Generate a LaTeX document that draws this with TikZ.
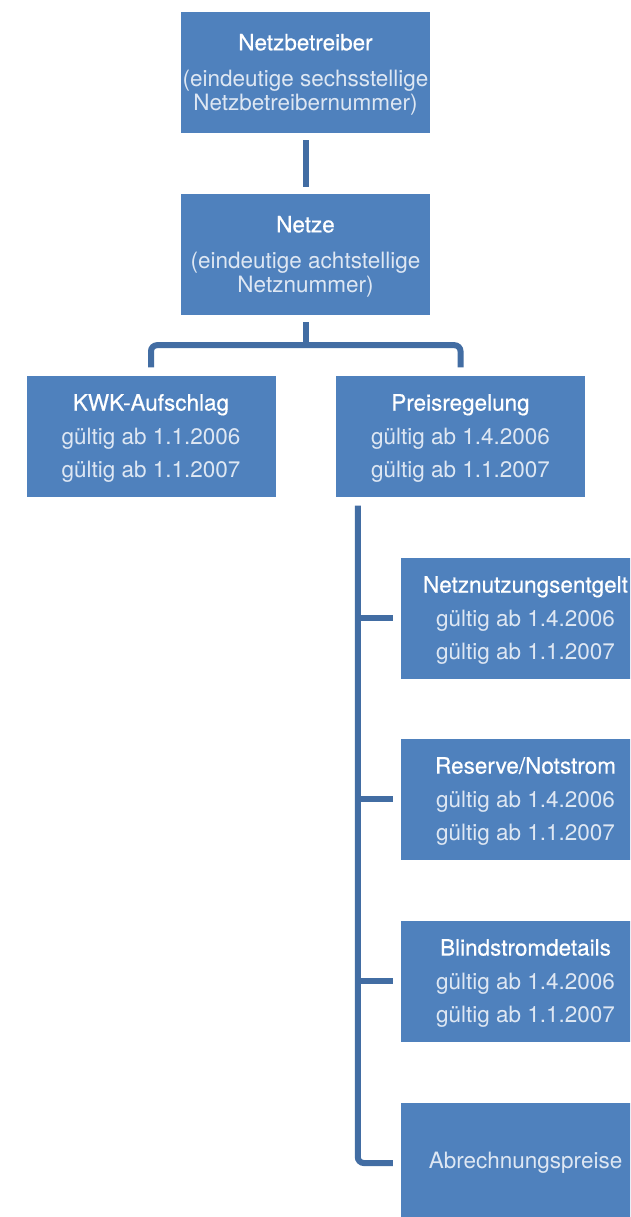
\documentclass[tikz,border=0pt]{standalone}
\usepackage{fontspec}
\setmainfont{TeX Gyre Heros}
\newfontfamily\titlefont{TeX Gyre Heros}[FakeBold=0.5]
\definecolor{boxblue}{RGB}{79,129,189}
\definecolor{linkblue}{RGB}{66,109,163}
\definecolor{softtext}{RGB}{222,231,243}
\newcommand{\ttl}[1]{\rule{0pt}{21pt}{\titlefont\color{white}#1}}
\begin{document}
\begin{tikzpicture}[x=1pt,y=-1pt,
  box/.style={fill=boxblue, draw=none, minimum width=249pt, minimum height=121pt,
    inner sep=0pt, align=center, text=softtext, font=\fontsize{22.5}{24.5}\selectfont},
  datebox/.style={box, font=\fontsize{22.5}{33.5}\selectfont},
  conn/.style={draw=linkblue, line width=6pt, rounded corners=6pt}]
\useasboundingbox (0,0) rectangle (630,1217);
\clip (0,0) rectangle (630,1217);

\node[box] (nb) at (305.5,72.5) {\ttl{Netzbetreiber}\\[11.5pt](eindeutige sechsstellige\\Netzbetreibernummer)};
\node[box] (netze) at (305.5,254.5) {\ttl{Netze}\\[11.5pt](eindeutige achtstellige\\Netznummer)};
\node[datebox] (kwk) at (151,436) {\ttl{KWK-Aufschlag}\\gültig ab 1.1.2006\\gültig ab 1.1.2007};
\node[datebox] (preis) at (460.5,436) {\ttl{Preisregelung}\\gültig ab 1.4.2006\\gültig ab 1.1.2007};
\node[datebox] (nn) at (525.5,618) {\ttl{Netznutzungsentgelt}\\gültig ab 1.4.2006\\gültig ab 1.1.2007};
\node[datebox] (res) at (525.5,799) {\ttl{Reserve/Notstrom}\\gültig ab 1.4.2006\\gültig ab 1.1.2007};
\node[datebox] (blind) at (525.5,981) {\ttl{Blindstromdetails}\\gültig ab 1.4.2006\\gültig ab 1.1.2007};
\node[box] (abr) at (525.5,1163) {Abrechnungspreise};

% connectors
\draw[conn] ([yshift=-7pt]nb.south) -- ([yshift=7pt]netze.north);
\coordinate (bar) at ([yshift=-30pt]netze.south);
\draw[conn] ([yshift=-7pt]netze.south) -- (bar);
\draw[conn] ([yshift=8pt]kwk.north) |- (bar) -| ([yshift=8pt]preis.north);
\coordinate (stem) at ([xshift=22pt,yshift=-9pt]preis.south west);
\draw[conn] (stem) |- ([xshift=-8pt]abr.west);
\draw[conn] (stem |- nn.west) -- ([xshift=-8pt]nn.west);
\draw[conn] (stem |- res.west) -- ([xshift=-8pt]res.west);
\draw[conn] (stem |- blind.west) -- ([xshift=-8pt]blind.west);
\end{tikzpicture}
\end{document}
